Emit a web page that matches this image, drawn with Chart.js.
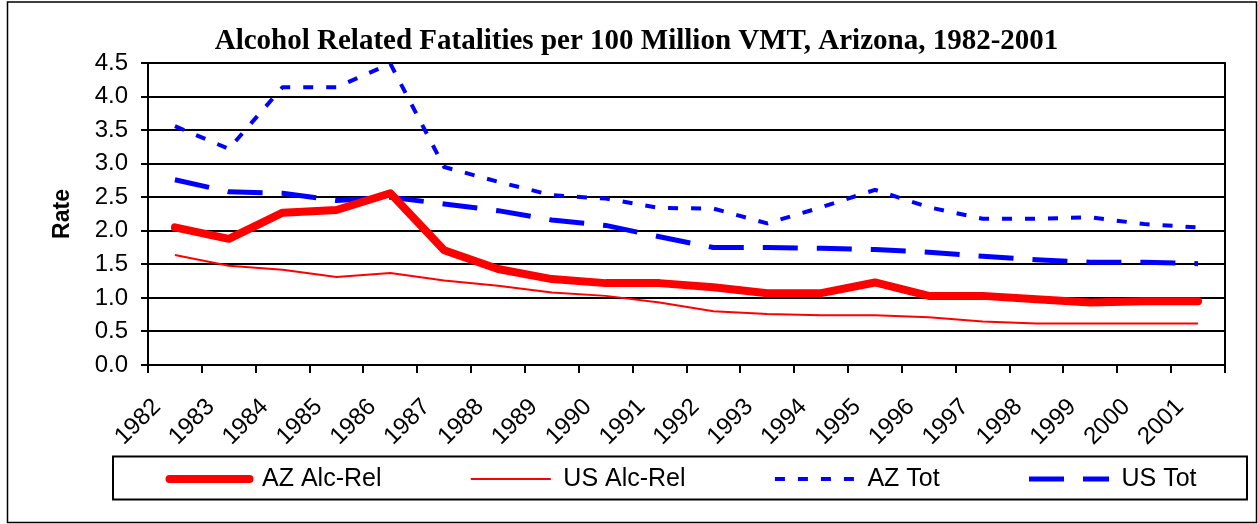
<!DOCTYPE html>
<html>
<head>
<meta charset="utf-8">
<title>Alcohol Related Fatalities per 100 Million VMT, Arizona</title>
<script src="https://cdn.jsdelivr.net/npm/chart.js@4/dist/chart.umd.min.js"></script>
<style>
  html, body { margin: 0; padding: 0; background: #fff; }
  #wrap { width: 1258px; height: 524px; }
</style>
</head>
<body>
<div id="wrap"><canvas id="chart" width="1258" height="524"></canvas></div>
<script>
// values, one per year
const years = ['1982','1983','1984','1985','1986','1987','1988','1989','1990','1991',
               '1992','1993','1994','1995','1996','1997','1998','1999','2000','2001'];
const azAlcRel = [2.05, 1.88, 2.27, 2.31, 2.56, 1.71, 1.43, 1.28, 1.22, 1.22,
                  1.16, 1.07, 1.07, 1.23, 1.03, 1.03, 0.98, 0.93, 0.95, 0.95];
const usAlcRel = [1.64, 1.48, 1.42, 1.31, 1.37, 1.26, 1.18, 1.08, 1.03, 0.93,
                  0.80, 0.76, 0.74, 0.74, 0.71, 0.65, 0.62, 0.62, 0.62, 0.62];
const azTot    = [3.56, 3.22, 4.14, 4.14, 4.49, 2.95, 2.73, 2.53, 2.48, 2.34,
                  2.33, 2.11, 2.35, 2.61, 2.35, 2.18, 2.18, 2.20, 2.10, 2.05];
const usTot    = [2.76, 2.58, 2.56, 2.45, 2.50, 2.40, 2.30, 2.16, 2.08, 1.91,
                  1.75, 1.75, 1.74, 1.72, 1.68, 1.62, 1.57, 1.53, 1.53, 1.51];
const seriesNames = ['AZ Alc-Rel', 'US Alc-Rel', 'AZ Tot', 'US Tot'];

const RED = '#FF0000', BLUE = '#0000FF';
const SANS = '"Liberation Sans", Arial, sans-serif';
const SERIF = '"Liberation Serif", "Times New Roman", serif';

// trailing blanks spread the legend entries like the original
const legendGap = [12, 12, 12, 1];

// white page, outer frame, plot frame and legend frame
const frames = {
  id: 'frames',
  beforeDraw(chart){
    const {ctx, width, height} = chart;
    ctx.save();
    ctx.fillStyle = '#fff';
    ctx.fillRect(0, 0, width, height);
    ctx.restore();
  },
  beforeDatasetsDraw(chart){
    const {ctx, chartArea:a} = chart;
    ctx.save();
    ctx.strokeStyle = '#000';
    ctx.lineWidth = 2;
    ctx.strokeRect(a.left, a.top, a.right - a.left, a.bottom - a.top);
    ctx.restore();
  },
  afterDraw(chart){
    const {ctx, legend} = chart;
    ctx.save();
    ctx.strokeStyle = '#000';
    ctx.lineWidth = 1.5;
    ctx.strokeRect(7.5, 2, 1249, 520.5);
    ctx.lineWidth = 2;
    ctx.strokeRect(113, legend.top - 4, 1247 - 113, legend.bottom - legend.top + 2);
    ctx.restore();
  }
};

function line(label, data, color, width, dash, cap){
  return {
    label, data,
    borderColor: color, backgroundColor: color,
    borderWidth: width, borderDash: dash,
    borderCapStyle: cap, borderJoinStyle: 'round',
    pointRadius: 0, pointHoverRadius: 0, tension: 0, fill: false
  };
}

new Chart(document.getElementById('chart'), {
  type: 'line',
  data: {
    labels: years,
    datasets: [
      line(seriesNames[0], azAlcRel, RED, 8, [], 'round'),
      line(seriesNames[1], usAlcRel, RED, 2, [], 'butt'),
      line(seriesNames[2], azTot, BLUE, 4, [10, 13], 'butt'),
      line(seriesNames[3], usTot, BLUE, 5, [35, 19], 'butt')
    ]
  },
  options: {
    responsive: false,
    animation: false,
    layout: { padding: { left: 48, right: 33, top: 0, bottom: 22.5 } },
    font: { family: SANS },
    plugins: {
      title: {
        display: true,
        text: 'Alcohol Related Fatalities per 100 Million VMT, Arizona, 1982-2001',
        color: '#000',
        font: { family: SERIF, size: 29, weight: 'bold', lineHeight: 1.2 },
        padding: { top: 23.9, bottom: 4.3 }
      },
      legend: {
        position: 'bottom',
        fullSize: false,
        labels: {
          color: '#000',
          font: { family: SANS, size: 25 },
          usePointStyle: true,
          pointStyle: 'line',
          pointStyleWidth: 80,
          padding: 6,
          generateLabels(chart){
            const items = Chart.defaults.plugins.legend.labels.generateLabels(chart);
            items.forEach((it, i) => {
              const ds = chart.data.datasets[i];
              it.text = seriesNames[i] + ' '.repeat(legendGap[i]);
              it.lineDash = ds.borderDash;
              it.lineCap = ds.borderCapStyle;
              it.lineWidth = ds.borderWidth;
              it.strokeStyle = ds.borderColor;
            });
            return items;
          }
        }
      },
      tooltip: { enabled: false }
    },
    scales: {
      x: {
        offset: true,
        grid: { display: true, drawOnChartArea: false, drawTicks: true, tickLength: 8,
                color: '#000', lineWidth: 2, offset: true },
        border: { color: '#000', width: 2 },
        ticks: { color: '#000', font: { family: SANS, size: 24 }, autoSkip: false,
                 minRotation: 45, maxRotation: 45, padding: 20, labelOffset: -18 },
        afterFit(s){ s.height = 95.5; }
      },
      y: {
        min: 0, max: 4.5,
        grid: { color: '#000', lineWidth: 2, tickLength: 7 },
        border: { color: '#000', width: 2 },
        ticks: { stepSize: 0.5, color: '#000', font: { family: SANS, size: 24 }, padding: 13,
                 callback: v => v.toFixed(1) },
        title: { display: true, text: 'Rate', color: '#000',
                 font: { family: SANS, size: 23, weight: 'bold' },
                 padding: { top: 1, bottom: 0 } },
        afterFit(s){ s.width = 100; }
      }
    }
  },
  plugins: [frames]
});
</script>
</body>
</html>
